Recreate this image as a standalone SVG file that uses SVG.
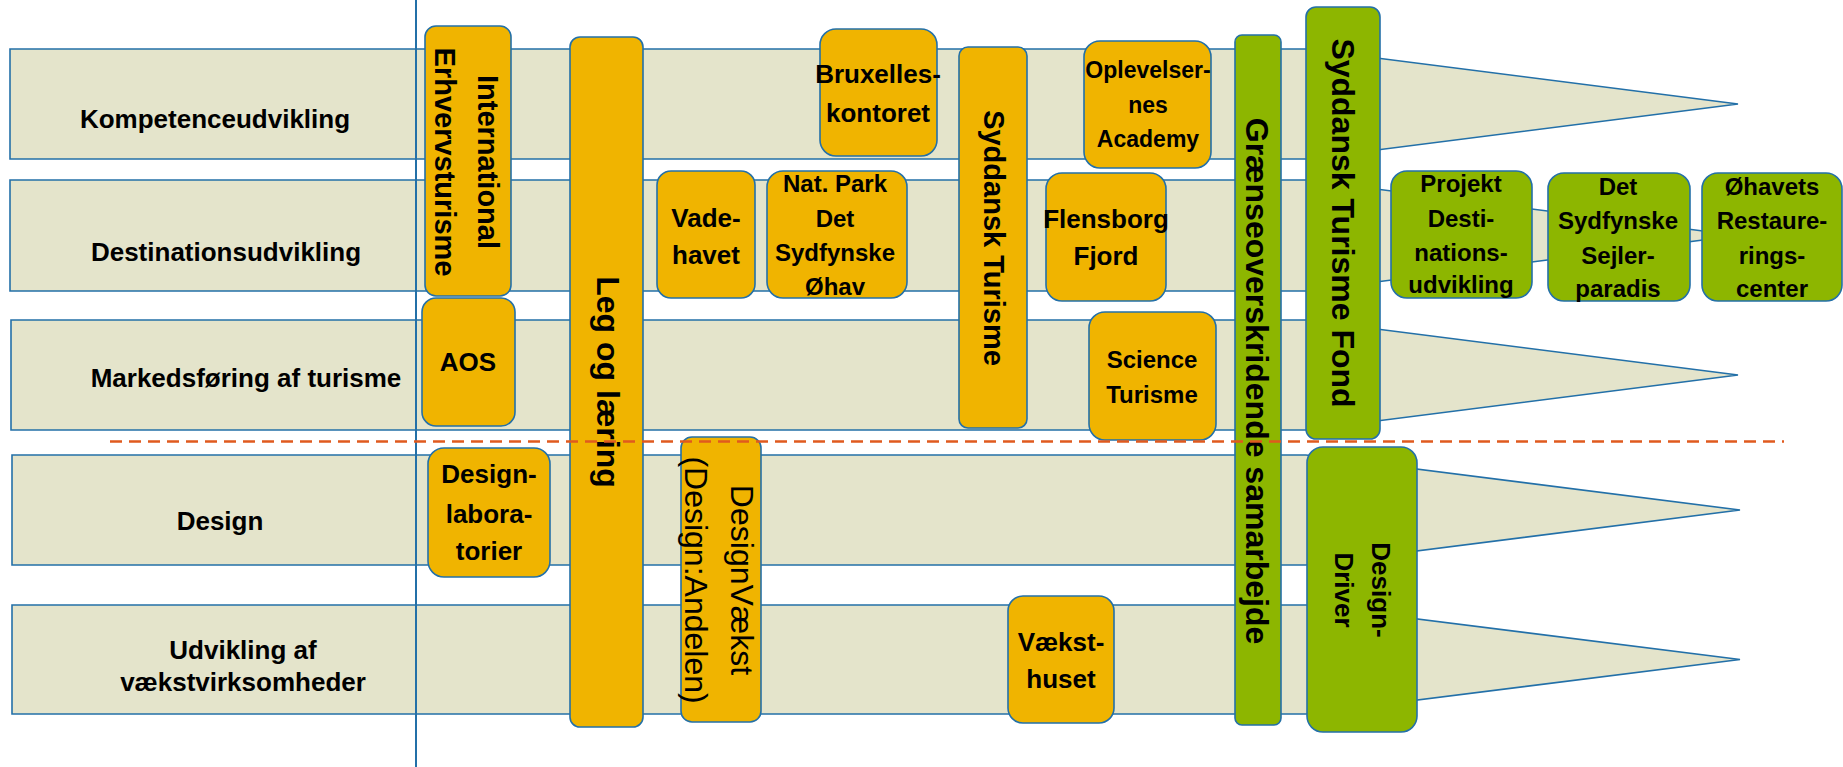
<svg xmlns="http://www.w3.org/2000/svg" width="1843" height="767" viewBox="0 0 1843 767">
<style>
.row{fill:#E4E4CB;stroke:#2370A8;stroke-width:1.6}
.y{fill:#F0B400;stroke:#2370A8;stroke-width:1.6}
.g{fill:#8DB600;stroke:#2370A8;stroke-width:1.6}
.t{font-family:"Liberation Sans",Arial,sans-serif;font-weight:bold;fill:#000;text-anchor:middle}
.r{font-family:"Liberation Sans",Arial,sans-serif;font-weight:normal;fill:#000;text-anchor:middle}
.f26{font-size:26px}.f24{font-size:24px}.f23{font-size:23px}.f29{font-size:29px}.f32{font-size:32px}
</style>
<rect width="1843" height="767" fill="#fff"/>
<g id="rows">
<g id="row-kompetence"><path class="row" d="M10,49 H1306 L1738,104 L1306,159 H10 Z"/><text class="t f26" x="215" y="128">Kompetenceudvikling</text></g>
<g id="row-destination"><path class="row" d="M10,180 H1306 L1738,235.5 L1306,291 H10 Z"/><text class="t f26" x="226" y="261">Destinationsudvikling</text></g>
<g id="row-markedsforing"><path class="row" d="M11,320 H1306 L1738,375 L1306,430 H11 Z"/><text class="t f26" x="246" y="387">Markedsføring af turisme</text></g>
<g id="row-design"><path class="row" d="M12,455 H1306 L1740,510 L1306,565 H12 Z"/><text class="t f26" x="220" y="530">Design</text></g>
<g id="row-udvikling"><path class="row" d="M12,605 H1306 L1740,659.5 L1306,714 H12 Z"/><text class="t f26" x="243" y="659">Udvikling af</text><text class="t f26" x="243" y="691">vækstvirksomheder</text></g>
</g>
<g id="connectors">
<line x1="416" y1="0" x2="416" y2="767" stroke="#2370A8" stroke-width="2"/>
</g>
<g id="n-international"><rect class="y" x="425" y="26" width="86" height="270" rx="11"/><text class="t f29" transform="translate(478,162) rotate(90)"><tspan x="0" y="0">International</tspan><tspan x="0" y="43">Erhvervsturisme</tspan></text></g>
<g id="n-aos"><rect class="y" x="422" y="298" width="93" height="128" rx="14"/><text class="t f26" x="468" y="371">AOS</text></g>
<g id="n-leg"><rect class="y" x="570" y="37" width="73" height="690" rx="10"/><text class="t f32" transform="translate(597,382) rotate(90)">Leg og læring</text></g>
<g id="n-bruxelles"><rect class="y" x="820" y="29" width="117" height="127" rx="16"/><text class="t f26" x="878" y="83">Bruxelles-</text><text class="t f26" x="878" y="122">kontoret</text></g>
<g id="n-syddansk-turisme"><rect class="y" x="959" y="47" width="68" height="381" rx="9"/><text class="t f29" transform="translate(984,238) rotate(90)">Syddansk Turisme</text></g>
<g id="n-oplevelser"><rect class="y" x="1084" y="41" width="127" height="127" rx="16"/><text class="t f23" x="1148" y="78">Oplevelser-</text><text class="t f23" x="1148" y="113">nes</text><text class="t f23" x="1148" y="147">Academy</text></g>
<g id="n-vadehavet"><rect class="y" x="657" y="171" width="98" height="127" rx="14"/><text class="t f26" x="706" y="227">Vade-</text><text class="t f26" x="706" y="264">havet</text></g>
<g id="n-natpark"><rect class="y" x="767" y="171" width="140" height="127" rx="16"/><text class="t f24" x="835" y="192">Nat. Park</text><text class="t f24" x="835" y="227">Det</text><text class="t f24" x="835" y="261">Sydfynske</text><text class="t f24" x="835" y="295">Øhav</text></g>
<g id="n-flensborg"><rect class="y" x="1046" y="173" width="120" height="128" rx="16"/><text class="t f26" x="1106" y="228">Flensborg</text><text class="t f26" x="1106" y="265">Fjord</text></g>
<g id="n-science"><rect class="y" x="1089" y="312" width="127" height="128" rx="16"/><text class="t f24" x="1152" y="368">Science</text><text class="t f24" x="1152" y="403">Turisme</text></g>
<g id="n-designlab"><rect class="y" x="428" y="448" width="122" height="129" rx="16"/><text class="t f26" x="489" y="483">Design-</text><text class="t f26" x="489" y="523">labora-</text><text class="t f26" x="489" y="560">torier</text></g>
<g id="n-designvaekst"><rect class="y" x="681" y="437" width="80" height="285" rx="11"/><text class="r f32" transform="translate(731,580) rotate(90)"><tspan x="0" y="0">DesignVækst</tspan><tspan x="0" y="46">(Design:Andelen)</tspan></text></g>
<g id="n-vaeksthuset"><rect class="y" x="1008" y="596" width="106" height="127" rx="15"/><text class="t f26" x="1061" y="651">Vækst-</text><text class="t f26" x="1061" y="688">huset</text></g>
<g id="n-graense"><rect class="g" x="1235" y="35" width="46" height="690" rx="7"/><text class="t f32" transform="translate(1246,381) rotate(90)">Grænseoverskridende samarbejde</text></g>
<g id="n-fond"><rect class="g" x="1306" y="7" width="74" height="432" rx="10"/><text class="t f32" transform="translate(1332,223) rotate(90)">Syddansk Turisme Fond</text></g>
<g id="n-projekt"><rect class="g" x="1391" y="171" width="141" height="127" rx="16"/><text class="t f24" x="1461" y="192">Projekt</text><text class="t f24" x="1461" y="227">Desti-</text><text class="t f24" x="1461" y="261">nations-</text><text class="t f24" x="1461" y="293">udvikling</text></g>
<g id="n-sejlerparadis"><rect class="g" x="1548" y="173" width="142" height="128" rx="16"/><text class="t f24" x="1618" y="195">Det</text><text class="t f24" x="1618" y="229">Sydfynske</text><text class="t f24" x="1618" y="264">Sejler-</text><text class="t f24" x="1618" y="297">paradis</text></g>
<g id="n-ohavets"><rect class="g" x="1702" y="173" width="140" height="128" rx="16"/><text class="t f24" x="1772" y="195">Øhavets</text><text class="t f24" x="1772" y="229">Restaure-</text><text class="t f24" x="1772" y="264">rings-</text><text class="t f24" x="1772" y="297">center</text></g>
<g id="n-designdriver"><rect class="g" x="1307" y="447" width="110" height="285" rx="16"/><text class="t f26" transform="translate(1372,590) rotate(90)"><tspan x="0" y="0">Design-</tspan><tspan x="0" y="37.5">Driver</tspan></text></g>
<g id="divider">
<line x1="110" y1="441.5" x2="1784" y2="441.5" stroke="#E05A1E" stroke-width="2.6" stroke-dasharray="12 7"/>
</g>
</svg>
